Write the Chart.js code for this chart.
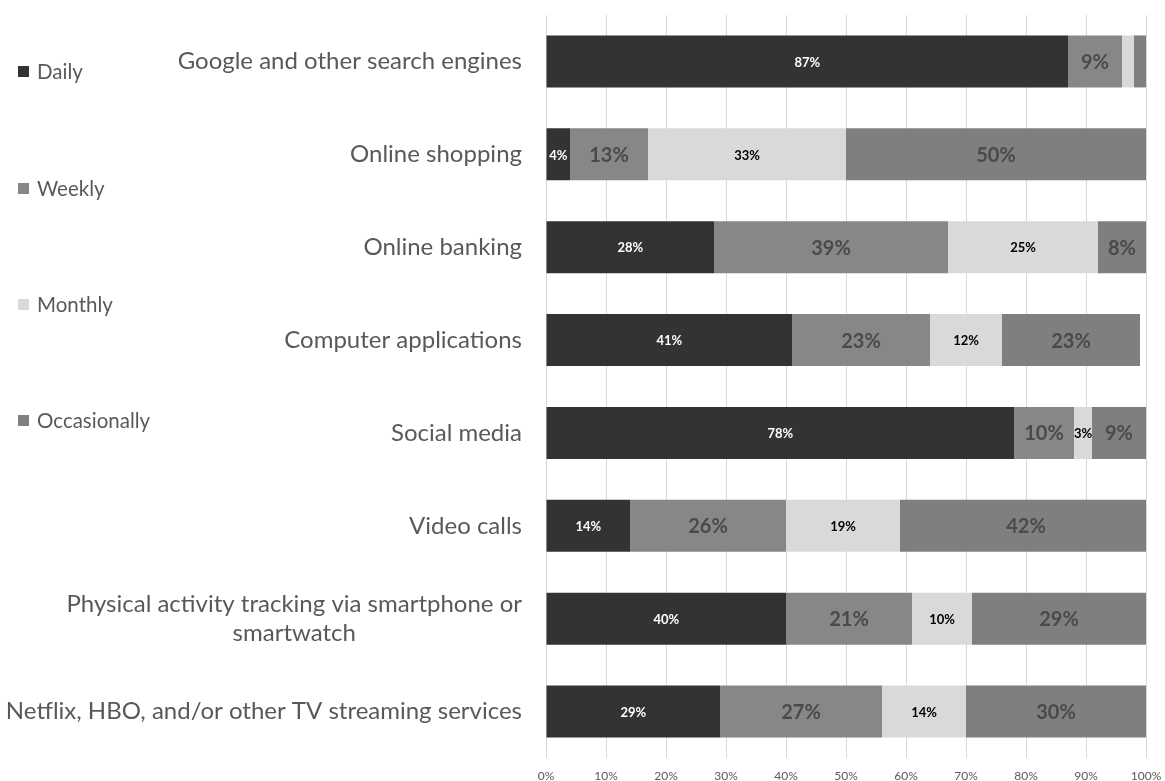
<!DOCTYPE html>
<html>
<head>
<meta charset="utf-8">
<title>Usage frequency</title>
<script src="https://cdn.jsdelivr.net/npm/chart.js@4.4.1/dist/chart.umd.min.js"></script>
<style>
  html, body { margin: 0; padding: 0; background: #fff; }
  #wrap { width: 1165px; height: 781px; position: relative; }
</style>
</head>
<body>
<div id="wrap"><canvas id="usageChart"></canvas></div>
<script>
const categories = [
  ['Google and other search engines'],
  ['Online shopping'],
  ['Online banking'],
  ['Computer applications'],
  ['Social media'],
  ['Video calls'],
  ['Physical activity tracking via smartphone or', 'smartwatch'],
  ['Netflix, HBO, and/or other TV streaming services']
];
const daily        = [87, 4, 28, 41, 78, 14, 40, 29];
const weekly       = [9, 13, 39, 23, 10, 26, 21, 27];
const monthly      = [2, 33, 25, 12, 3, 19, 10, 14];
const occasionally = [2, 50, 8, 23, 9, 42, 29, 30];
const seriesNames  = ['Daily', 'Weekly', 'Monthly', 'Occasionally'];
const xTicks       = [0, 10, 20, 30, 40, 50, 60, 70, 80, 90, 100];

const FONT = 'Lato, "Open Sans", sans-serif';
const TEXT_GRAY = '#595959';

// fill, label colour, label font for each series
const styles = [
  { fill: '#333333', text: '#ffffff', font: 'bold 13px ' + FONT },
  { fill: '#878787', text: '#4a4a4a', font: 'bold 20px ' + FONT },
  { fill: '#d9d9d9', text: '#000000', font: 'bold 13px ' + FONT },
  { fill: '#7f7f7f', text: '#4a4a4a', font: 'bold 20px ' + FONT }
];

// percent labels centred in each segment
const segmentLabels = {
  id: 'segmentLabels',
  afterDatasetsDraw(chart) {
    const ctx = chart.ctx;
    ctx.save();
    ctx.textAlign = 'center';
    ctx.textBaseline = 'middle';
    chart.data.datasets.forEach((ds, i) => {
      const meta = chart.getDatasetMeta(i);
      ctx.fillStyle = styles[i].text;
      ctx.font = styles[i].font;
      meta.data.forEach((bar, j) => {
        const v = ds.data[j];
        if (v < 3) return;
        ctx.fillText(v + '%', (bar.x + bar.base) / 2, bar.y + 1);
      });
    });
    ctx.restore();
  }
};

// category names, right edge at the axis, lines centred on each other
const categoryLabels = {
  id: 'categoryLabels',
  afterDraw(chart) {
    const ctx = chart.ctx;
    const y = chart.scales.y;
    const right = chart.chartArea.left - 24;
    const lineH = 29;
    ctx.save();
    ctx.font = '24px ' + FONT;
    ctx.fillStyle = TEXT_GRAY;
    ctx.textAlign = 'center';
    ctx.textBaseline = 'middle';
    chart.data.labels.forEach((lines, i) => {
      const w = Math.max(...lines.map(l => ctx.measureText(l).width));
      const cx = right - w / 2;
      const cy = y.getPixelForTick(i) - (lines.length - 1) * lineH / 2;
      lines.forEach((l, k) => ctx.fillText(l, cx, cy + k * lineH));
    });
    ctx.restore();
  }
};

// legend down the left edge
const sideLegend = {
  id: 'sideLegend',
  afterDraw(chart) {
    const ctx = chart.ctx;
    const rows = [71, 188, 304, 420];
    ctx.save();
    ctx.font = '20.5px ' + FONT;
    ctx.textBaseline = 'middle';
    chart.data.datasets.forEach((ds, i) => {
      ctx.fillStyle = ds.backgroundColor;
      ctx.fillRect(18, rows[i] - 5, 11, 11);
      ctx.fillStyle = TEXT_GRAY;
      ctx.fillText(ds.label, 37, rows[i] + 1);
    });
    ctx.restore();
  }
};

const series = [daily, weekly, monthly, occasionally];

new Chart(document.getElementById('usageChart'), {
  type: 'bar',
  data: {
    labels: categories,
    datasets: series.map((d, i) => ({
      label: seriesNames[i],
      data: d,
      backgroundColor: styles[i].fill,
      borderWidth: 0,
      categoryPercentage: 1,
      barPercentage: 0.56
    }))
  },
  options: {
    indexAxis: 'y',
    responsive: true,
    maintainAspectRatio: false,
    animation: false,
    layout: { padding: { top: 15, right: 19, bottom: 0, left: 0 } },
    plugins: {
      legend: { display: false },
      tooltip: { enabled: false }
    },
    scales: {
      x: {
        stacked: true,
        min: 0,
        max: 100,
        afterBuildTicks(scale) {
          scale.ticks = xTicks.map(v => ({ value: v }));
        },
        afterFit(scale) {
          scale.height = 23;
          scale.paddingRight = 0;
        },
        grid: { color: '#d9d9d9', lineWidth: 1, drawTicks: false },
        border: { display: false },
        ticks: {
          padding: 11,
          color: TEXT_GRAY,
          font: { family: FONT, size: 12 },
          callback: v => v + '%'
        }
      },
      y: {
        stacked: true,
        grid: { display: false },
        border: { display: false },
        ticks: { display: false },
        afterFit(scale) { scale.width = 546; }
      }
    }
  },
  plugins: [segmentLabels, categoryLabels, sideLegend]
});
</script>
</body>
</html>
